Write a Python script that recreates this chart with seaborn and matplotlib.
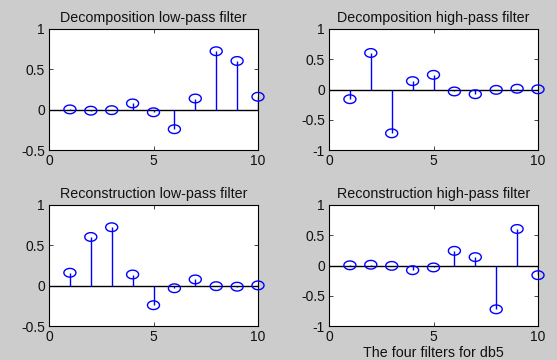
import numpy as np
import pandas as pd
import matplotlib
matplotlib.use("Agg")
import matplotlib.pyplot as plt
from matplotlib.path import Path
import seaborn as sns

# db5 filter coefficients
n = [1, 2, 3, 4, 5, 6, 7, 8, 9, 10]
dec_lo = [0.0033, -0.0126, -0.0062, 0.0776, -0.0322, -0.2423, 0.1384, 0.7243, 0.6038, 0.1601]
dec_hi = [-0.1601, 0.6038, -0.7243, 0.1384, 0.2423, -0.0322, -0.0776, -0.0062, 0.0126, 0.0033]
rec_lo = [0.1601, 0.6038, 0.7243, 0.1384, -0.2423, -0.0322, 0.0776, -0.0062, -0.0126, 0.0033]
rec_hi = [0.0033, 0.0126, -0.0062, -0.0776, -0.0322, 0.2423, 0.1384, -0.7243, 0.6038, -0.1601]

titles = ["Decomposition low-pass filter", "Decomposition high-pass filter",
          "Reconstruction low-pass filter", "Reconstruction high-pass filter"]
ylims = [(-0.5, 1), (-1, 1), (-0.5, 1), (-1, 1)]

sns.set_style("ticks")
plt.rcParams['font.family'] = ['Liberation Sans', 'DejaVu Sans']

# slightly squashed circle, like the stretched original
t = np.linspace(0, 2 * np.pi, 41)
ellipse = Path(np.column_stack([np.cos(t), 0.72 * np.sin(t)]), closed=True)

fig = plt.figure(figsize=(5.57, 3.6), dpi=100)
fig.patch.set_facecolor('#cccccc')

W, H = 557, 360
boxes = [(49, 29), (329, 29), (49, 205), (329, 205)]

for i, vals in enumerate([dec_lo, dec_hi, rec_lo, rec_hi]):
    x0, y0 = boxes[i]
    ax = fig.add_axes([x0 / W, 1 - (y0 + 121) / H, 209 / W, 121 / H])
    ax.set_facecolor('white')
    df = pd.DataFrame({"n": n, "h": vals})
    ax.axhline(0, color='black', lw=1.0, zorder=1)
    ax.vlines(df["n"], 0, df["h"], color='blue', lw=1.0, zorder=2)
    sns.scatterplot(data=df, x="n", y="h", ax=ax, marker=ellipse, s=75,
                    facecolors='none', edgecolor='blue', linewidth=1.0,
                    zorder=3, clip_on=False)
    ax.set_xlim(0, 10)
    ax.set_ylim(*ylims[i])
    ax.set_xticks([0, 5, 10])
    if ylims[i][0] == -1:
        ax.set_yticks([-1, -0.5, 0, 0.5, 1])
        ax.set_yticklabels(["-1", "-0.5", "0", "0.5", "1"])
    else:
        ax.set_yticks([-0.5, 0, 0.5, 1])
        ax.set_yticklabels(["-0.5", "0", "0.5", "1"])
    ax.set_xticklabels(["0", "5", "10"])
    ax.tick_params(direction='in', top=True, right=True, labelsize=10, length=3,
                   width=0.6, pad=3, labelcolor='#111111')
    for s in ax.spines.values():
        s.set_visible(True)
        s.set_linewidth(0.8)
        s.set_color('black')
    ax.set_title(titles[i], fontsize=10.3, pad=5, color='#111111')
    ax.set_xlabel("")
    ax.set_ylabel("")

ax.set_xlabel("The four filters for db5", fontsize=10.3, labelpad=1, color='#111111')

fig.savefig("out.png", dpi=100, facecolor=fig.get_facecolor())
